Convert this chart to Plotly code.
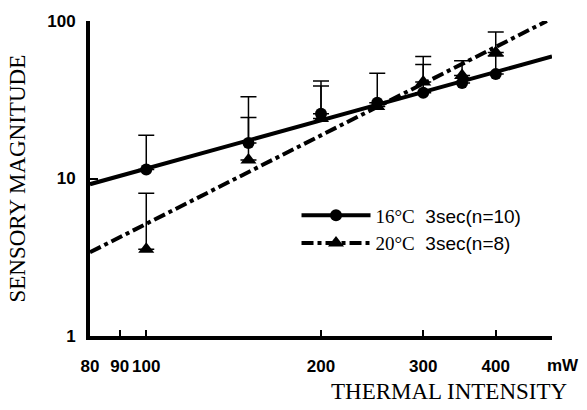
import numpy as np
import plotly.graph_objects as go

# ---- data ----
intensity = [100, 150, 200, 250, 300, 350, 400]          # mW
mag_16 = [11.4, 16.8, 25.8, 30.3, 35.0, 40.4, 46.0]       # 16°C 3sec (n=10)
top_16 = [18.8, 33.0, 41.6, 46.6, 53.0, 56.0, 60.0]       # upper end of error bar
mag_20 = [3.55, 13.1, 24.0, 28.6, 41.0, 45.0, 63.0]       # 20°C 3sec (n=8)
top_20 = [8.06, 24.4, 38.7, 28.6, 59.6, 45.0, 85.0]

fit_x_16 = [80, 500]
fit_y_16 = [9.2, 59.6]
fit_x_20 = [80, 490]
fit_y_20 = [3.4, 100.0]

x_tickvals = [80, 90, 100, 200, 300, 400]
x_ticktext = ["80", "90", "100", "200", "300", "400"]
y_tickvals = [1, 10, 100]
y_ticktext = ["1", "10", "100"]

legend_16 = "<span style='font-family:Liberation Serif'>16°C</span>\u00a0\u00a03sec(n=10)"
legend_20 = "<span style='font-family:Liberation Serif'>20°C</span>\u00a0\u00a03sec(n=8)"

SANS = "Liberation Sans"
SERIF = "Liberation Serif"
DASH = "12px,4px,4px,4px"

err_16 = list(np.array(top_16) - np.array(mag_16))
err_20 = list(np.array(top_20) - np.array(mag_20))

fig = go.Figure()

# fitted lines
fig.add_trace(go.Scatter(x=fit_x_16, y=fit_y_16, mode="lines",
                         line=dict(color="black", width=4), showlegend=False, hoverinfo="skip"))
fig.add_trace(go.Scatter(x=fit_x_20, y=fit_y_20, mode="lines",
                         line=dict(color="black", width=4, dash=DASH), showlegend=False, hoverinfo="skip"))

# data points with upward error bars
fig.add_trace(go.Scatter(x=intensity, y=mag_16, mode="markers",
                         marker=dict(symbol="circle", size=12, color="black"),
                         error_y=dict(type="data", array=err_16, arrayminus=[0]*len(err_16),
                                      symmetric=False, color="black", thickness=1.5, width=8),
                         showlegend=False))
fig.add_trace(go.Scatter(x=intensity, y=mag_20, mode="markers",
                         marker=dict(symbol="triangle-up", size=14, color="black"),
                         error_y=dict(type="data", array=err_20, arrayminus=[0]*len(err_20),
                                      symmetric=False, color="black", thickness=1.5, width=8),
                         showlegend=False))

# legend entries
fig.add_trace(go.Scatter(x=[None], y=[None], mode="lines+markers", name=legend_16,
                         line=dict(color="black", width=4),
                         marker=dict(symbol="circle", size=12, color="black")))
fig.add_trace(go.Scatter(x=[None], y=[None], mode="lines+markers", name=legend_20,
                         line=dict(color="black", width=4, dash=DASH),
                         marker=dict(symbol="triangle-up", size=14, color="black")))

fig.update_layout(
    width=587, height=410,
    margin=dict(l=90, r=35, t=16, b=74),
    paper_bgcolor="white", plot_bgcolor="white",
    font=dict(family=SANS, size=17, color="black"),
    showlegend=True,
    legend=dict(x=0.447, y=0.443, xanchor="left", yanchor="top",
                bgcolor="rgba(0,0,0,0)", borderwidth=0,
                font=dict(family=SANS, size=19, color="black"),
                itemwidth=69, tracegroupgap=0),
    xaxis=dict(type="log", range=[np.log10(80), np.log10(500)],
               tickvals=x_tickvals, ticktext=x_ticktext,
               showgrid=False, zeroline=False,
               showline=True, linewidth=4, linecolor="black",
               ticks="inside", ticklen=6, tickwidth=1.5, tickcolor="black",
               ticklabelstandoff=12,
               tickfont=dict(family=SANS, size=17, color="black", weight="bold")),
    yaxis=dict(type="log", range=[0, 2],
               tickvals=y_tickvals, ticktext=y_ticktext,
               showgrid=False, zeroline=False,
               showline=True, linewidth=4, linecolor="black",
               ticks="inside", ticklen=8, tickwidth=1.5, tickcolor="black",
               ticklabelstandoff=7,
               tickfont=dict(family=SANS, size=17, color="black", weight="bold")),
    annotations=[
        dict(text="THERMAL INTENSITY", xref="paper", yref="paper",
             x=0.779, y=-0.175, xanchor="center", yanchor="middle", showarrow=False,
             font=dict(family=SERIF, size=23, color="black")),
        dict(text="SENSORY MAGNITUDE", xref="paper", yref="paper",
             x=-0.158, y=0.5, xanchor="center", yanchor="middle", showarrow=False,
             textangle=-90, font=dict(family=SERIF, size=23, color="black")),
        dict(text="mW", xref="paper", yref="paper",
             x=1.024, y=-0.094, xanchor="center", yanchor="middle", showarrow=False,
             font=dict(family=SANS, size=17, color="black", weight="bold")),
    ],
)

fig.write_html("out.html", config={"displayModeBar": False},
               post_script="document.body.style.margin='0';")
